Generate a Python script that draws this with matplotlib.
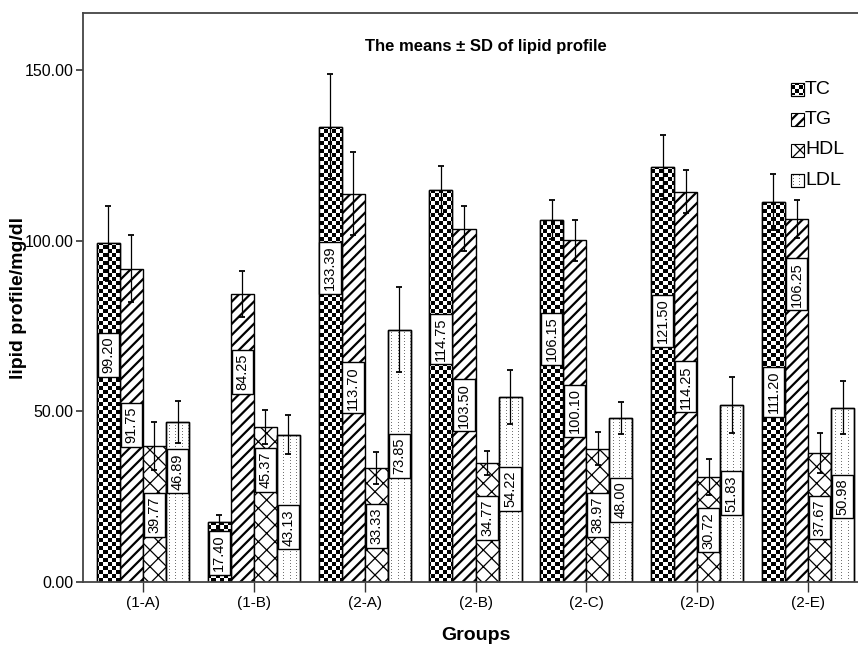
"""Grouped bar chart: means +/- SD of lipid profile per group (SPSS-style patterns)."""
import numpy as np
import matplotlib
matplotlib.use("Agg")
import matplotlib.pyplot as plt
from matplotlib.patches import Rectangle

groups = ["(1-A)", "(1-B)", "(2-A)", "(2-B)", "(2-C)", "(2-D)", "(2-E)"]
series = ["TC", "TG", "HDL", "LDL"]

tc = [99.20, 17.40, 133.39, 114.75, 106.15, 121.50, 111.20]
tg = [91.75, 84.25, 113.70, 103.50, 100.10, 114.25, 106.25]
hdl = [39.77, 45.37, 33.33, 34.77, 38.97, 30.72, 37.67]
ldl = [46.89, 43.13, 73.85, 54.22, 48.00, 51.83, 50.98]

# SD
tc_sd = [11.0, 2.2, 15.5, 7.0, 5.8, 9.3, 8.2]
tg_sd = [9.9, 6.7, 12.2, 6.7, 6.0, 6.3, 5.5]
hdl_sd = [6.9, 5.0, 4.8, 3.4, 4.8, 5.3, 5.9]
ldl_sd = [6.1, 5.6, 12.5, 7.9, 4.8, 8.1, 7.7]

yticks = [0, 50, 100, 150]

# where the value box sits, as a fraction of the bar height (layout only)
tc_lab = [0.67, 0.49, 0.69, 0.62, 0.67, 0.63, 0.50]
tg_lab = [0.50, 0.73, 0.50, 0.50, 0.50, 0.50, 0.82]
hdl_lab = [0.49, 0.72, 0.49, 0.54, 0.50, 0.49, 0.50]
ldl_lab = [0.69, 0.37, 0.50, 0.50, 0.50, 0.50, 0.49]

plt.rcParams["font.family"] = ["Liberation Sans", "DejaVu Sans"]

W_PX, H_PX = 858, 647
fig = plt.figure(figsize=(W_PX / 100, H_PX / 100), dpi=100)
# axes run past the right edge of the picture, like the cropped original
ax_l, ax_b, ax_w, ax_h = 83, 581.7, 785, 568.4
ax = fig.add_axes([ax_l / W_PX, (H_PX - ax_b) / H_PX, ax_w / W_PX, ax_h / H_PX])


def px_to_axes(px, py):
    return (px - ax_l) / ax_w, (ax_b - py) / ax_h


# pixel-level fill patterns that matplotlib hatches can't do
bb = ax.get_window_extent()
H, W = int(round(bb.height)), int(round(bb.width))
r, c = np.mgrid[0:H, 0:W]
checker = np.ones((H, W, 4))
checker[((r // 4 + c // 4) % 2) == 0, :3] = 0.0
dots = np.zeros((H, W, 4))
dmask = (c % 6 == 2) & (r % 3 == 0)
dots[dmask, :3] = 0.45
dots[dmask, 3] = 1.0


def pattern_fill(patch, rgba, z=1.5):
    im = ax.imshow(rgba, extent=(0, 1, 0, 1), transform=ax.transAxes, origin="lower",
                   interpolation="nearest", aspect="auto", zorder=z)
    im.set_clip_path(patch)


x = np.arange(len(groups))
w = 0.208
values = [tc, tg, hdl, ldl]
sds = [tc_sd, tg_sd, hdl_sd, ldl_sd]
labpos = [tc_lab, tg_lab, hdl_lab, ldl_lab]
hatches = [None, "///", "xx", None]
hatch_lw = [1.0, 1.6, 0.9, 1.0]
fills = [checker, None, None, dots]

for i in range(len(series)):
    pos = x + (i - 1.5) * w
    bars = ax.bar(pos, values[i], w, color="white", edgecolor="black", linewidth=1.0,
                  hatch=hatches[i], zorder=1)
    for b in bars:
        if hasattr(b, "set_hatch_linewidth"):
            b.set_hatch_linewidth(hatch_lw[i])
    if fills[i] is not None:
        for b in bars:
            pattern_fill(b, fills[i])
        ax.bar(pos, values[i], w, fill=False, edgecolor="black", linewidth=1.0, zorder=1.6)
    ax.errorbar(pos, values[i], yerr=sds[i], fmt="none", ecolor="black",
                elinewidth=0.9, capsize=2.5, capthick=1.3, zorder=3)
    for p, v, f in zip(pos, values[i], labpos[i]):
        ax.text(p, v * f, f"{v:.2f}", rotation=90, ha="center", va="center",
                fontsize=10.5, zorder=4,
                bbox=dict(boxstyle="square,pad=0.25", fc="white", ec="black", lw=1.0))

# hand-made legend so the checker / dot squares match the bars
for i, name in enumerate(series):
    cy = 89 + i * 30.5
    x0, y0 = px_to_axes(791, cy + 6.5)
    x1, y1 = px_to_axes(804, cy - 6.5)
    sq = Rectangle((x0, y0), x1 - x0, y1 - y0, transform=ax.transAxes,
                   facecolor="white", edgecolor="black", linewidth=0.8,
                   hatch=hatches[i], zorder=5)
    if hasattr(sq, "set_hatch_linewidth"):
        sq.set_hatch_linewidth(hatch_lw[i])
    ax.add_patch(sq)
    if fills[i] is not None:
        pattern_fill(sq, fills[i], z=5.5)
        ax.add_patch(Rectangle((x0, y0), x1 - x0, y1 - y0, transform=ax.transAxes,
                               fill=False, edgecolor="black", linewidth=0.8, zorder=5.6))
    tx, ty = px_to_axes(805, cy)
    ax.text(tx, ty, name, transform=ax.transAxes, ha="left", va="center", fontsize=14)

tx, ty = px_to_axes(486, 47)
ax.text(tx, ty, "The means \u00b1 SD of lipid profile", transform=ax.transAxes,
        ha="center", va="center", fontsize=12, fontweight="bold")

ax.set_xlim(-0.541, 6.541)
ax.set_ylim(0, 166.6)
ax.set_xticks(x)
ax.set_xticklabels(groups, fontsize=11)
ax.set_yticks(yticks)
ax.set_yticklabels([f"{v:.2f}" for v in yticks], fontsize=11.5)
ax.tick_params(axis="y", length=5, width=1.2, pad=2, color="#333333")
ax.tick_params(axis="x", length=7, width=1.0, pad=3, color="#333333")
for s in ["left", "bottom", "top"]:
    ax.spines[s].set_linewidth(1.3)
    ax.spines[s].set_color("#444444")
ax.spines["right"].set_visible(False)

fig.text(19 / W_PX, 1 - 298 / H_PX, "lipid profile/mg/dl", rotation=90, ha="center",
         va="center", fontsize=14, fontweight="bold")
fig.text(476 / W_PX, 1 - 635 / H_PX, "Groups", ha="center", va="center",
         fontsize=14, fontweight="bold")

fig.savefig("out.png", dpi=100)
